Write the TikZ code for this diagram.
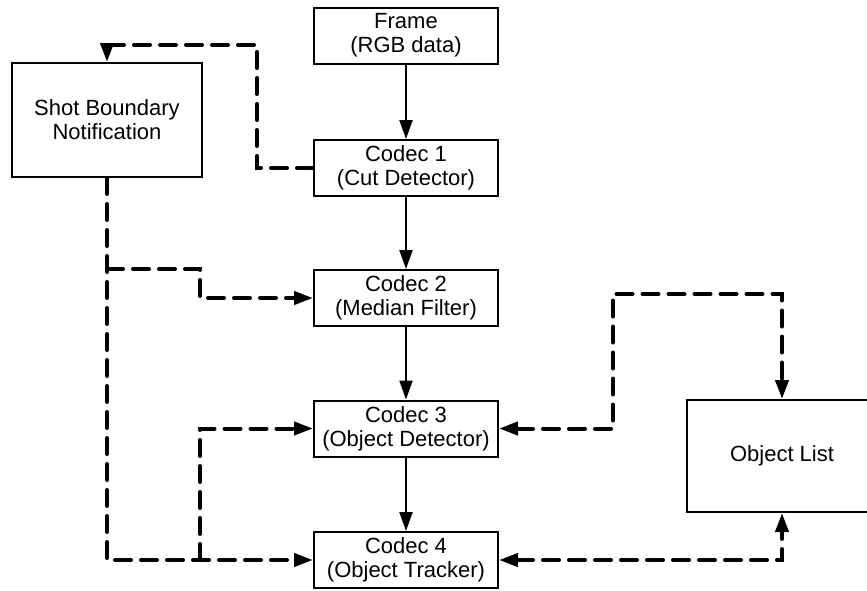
\documentclass[tikz,border=0pt]{standalone}
\usepackage{fontspec}
\setmainfont{Liberation Sans}
\usepackage{tikz}
\usetikzlibrary{arrows.meta}
\usetikzlibrary{calc}

\begin{document}
\begin{tikzpicture}[
        x=1pt, y=-1pt, % Un punto por píxel, eje y hacia abajo
        font=\fontsize{22}{24}\selectfont, % Tamaño de la fuente para las etiquetas
        >={Triangle[length=19pt, width=13pt]}, % Punta de flecha
        bloque/.style={draw, line width=2pt, align=center, inner sep=0pt,
        minimum width=184pt, minimum height=56pt}, % Estilo para las cajas
        flujo/.style={->, line width=2.2pt}, % Estilo para las flechas continuas
        aviso/.style={->, line width=4pt, line cap=round,
        dash pattern=on 16pt off 10pt}, % Estilo para las flechas discontinuas
    ]
        % --- Marco de la figura ---
        \useasboundingbox (0,0) rectangle (867,590);

        % --- Cadena de códecs ---
        \node[bloque] (frame) at (406,35.5) {Frame\\(RGB data)};
        \node[bloque] (codec1) at (406,168) {Codec 1\\(Cut Detector)};
        \node[bloque] (codec2) at (406,298) {Codec 2\\(Median Filter)};
        \node[bloque] (codec3) at (406,428.5) {Codec 3\\(Object Detector)};
        \node[bloque] (codec4) at (406,560) {Codec 4\\(Object Tracker)};

        % --- Cajas laterales ---
        \node[bloque, minimum width=190pt, minimum height=114pt] (shot) at (107,120) {Shot Boundary\\Notification};
        \node[bloque, minimum width=190pt, minimum height=112pt] (objlist) at (782,456) {Object List};

        % --- Flechas continuas ---
        \draw[flujo] (frame) -- (codec1);
        \draw[flujo] (codec1) -- (codec2);
        \draw[flujo] (codec2) -- (codec3);
        \draw[flujo] (codec3) -- (codec4);

        % --- Aviso de corte hacia arriba ---
        \coordinate (corte) at (257,45);
        \draw[aviso] (codec1.west) -| (corte) -| (shot.north);

        % --- Reparto del aviso a los códecs ---
        \coordinate (rama1) at (107,269);
        \coordinate (codo1) at ($(codec2.west)+(-113,0)$);
        \coordinate (rama2) at ($(codec4.west)+(-113,0)$);
        \draw[aviso] (shot.south) |- (codec4.west);
        \draw[aviso] (rama1) -| (codo1) -- (codec2.west);
        \draw[aviso] (rama2) |- (codec3.west);

        % --- Intercambio con la lista de objetos ---
        \coordinate (lista1) at (613,294);
        \draw[aviso, <->] (codec3.east) -| (lista1) -| (objlist.north);
        \draw[aviso, <->] (codec4.east) -| (objlist.south);

    \end{tikzpicture}
\end{document}
